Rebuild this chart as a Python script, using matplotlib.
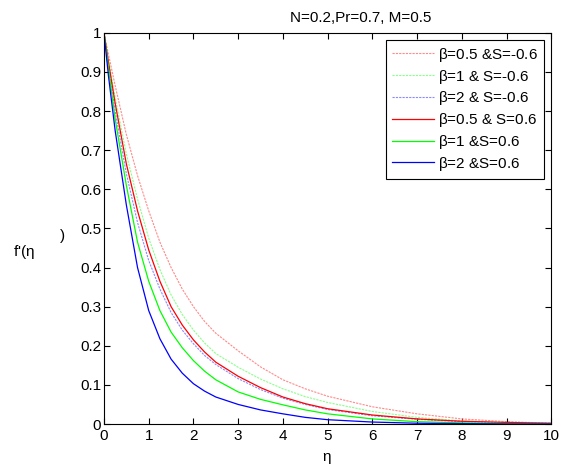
import matplotlib
matplotlib.use("Agg")
from matplotlib import pyplot as plt

# eta grid and f'(eta) values
eta = [0, 0.1, 0.25, 0.5, 0.75, 1, 1.25, 1.5, 1.75, 2, 2.25, 2.5, 3, 3.5, 4, 4.5, 5, 6, 7, 8, 9, 10]

b05_sm = [1, 0.945, 0.865, 0.74, 0.635, 0.545, 0.465, 0.4, 0.345, 0.3, 0.262, 0.232, 0.187, 0.146, 0.113, 0.09, 0.071, 0.044, 0.026, 0.013, 0.006, 0.002]
b1_sm = [1, 0.93, 0.835, 0.69, 0.575, 0.475, 0.395, 0.33, 0.28, 0.24, 0.207, 0.18, 0.145, 0.115, 0.09, 0.07, 0.055, 0.032, 0.017, 0.008, 0.004, 0.002]
b2_sm = [1, 0.92, 0.8, 0.64, 0.515, 0.418, 0.345, 0.285, 0.24, 0.205, 0.175, 0.152, 0.116, 0.088, 0.066, 0.05, 0.037, 0.021, 0.012, 0.006, 0.003, 0.001]
b05_sp = [1, 0.925, 0.82, 0.665, 0.545, 0.445, 0.365, 0.3, 0.253, 0.215, 0.184, 0.158, 0.122, 0.093, 0.069, 0.052, 0.039, 0.023, 0.013, 0.007, 0.004, 0.002]
b1_sp = [1, 0.91, 0.78, 0.61, 0.465, 0.365, 0.29, 0.235, 0.195, 0.162, 0.135, 0.113, 0.082, 0.063, 0.049, 0.036, 0.026, 0.013, 0.006, 0.003, 0.001, 0]
b2_sp = [1, 0.89, 0.75, 0.56, 0.4, 0.29, 0.218, 0.166, 0.13, 0.103, 0.084, 0.069, 0.05, 0.036, 0.026, 0.017, 0.011, 0.005, 0.002, 0.001, 0, 0]

labels = [r'$\beta$=0.5 &S=-0.6', r'$\beta$=1 & S=-0.6', r'$\beta$=2 & S=-0.6',
          r'$\beta$=0.5 & S=0.6', r'$\beta$=1 &S=0.6', r'$\beta$=2 &S=0.6']

plt.rcParams['font.family'] = ['Liberation Sans', 'DejaVu Sans']
plt.rcParams['mathtext.fontset'] = 'custom'
plt.rcParams['mathtext.rm'] = 'Liberation Sans'
plt.rcParams['mathtext.it'] = 'Liberation Sans'
plt.rcParams['font.size'] = 11

fig = plt.figure(figsize=(5.62, 4.68), dpi=100)
ax = fig.add_axes([0.185, 0.094, 0.796, 0.836])

dot = (0, (2, 1))
ax.plot(eta, b05_sm, linestyle=dot, color='#ff8a8a', lw=0.8, label=labels[0])
ax.plot(eta, b1_sm, linestyle=dot, color='#8aff8a', lw=0.8, label=labels[1])
ax.plot(eta, b2_sm, linestyle=dot, color='#8a8aff', lw=0.8, label=labels[2])
ax.plot(eta, b05_sp, '-', color='red', lw=0.9, label=labels[3])
ax.plot(eta, b1_sp, '-', color='#00ff00', lw=0.9, label=labels[4])
ax.plot(eta, b2_sp, '-', color='blue', lw=0.9, label=labels[5])

ax.set_xlim(0, 10)
ax.set_ylim(0, 1)
ax.set_xticks(range(0, 11))
ax.set_yticks([0, 0.1, 0.2, 0.3, 0.4, 0.5, 0.6, 0.7, 0.8, 0.9, 1])
ax.set_yticklabels(['0', '0.1', '0.2', '0.3', '0.4', '0.5', '0.6', '0.7', '0.8', '0.9', '1'])
ax.tick_params(direction='in', top=True, right=True, length=4, width=0.8, labelsize=11)
ax.tick_params(axis='x', pad=3.5)
ax.tick_params(axis='y', pad=2)
for s in ax.spines.values():
    s.set_linewidth(0.8)

leg = ax.legend(loc='upper right', bbox_to_anchor=(1.0, 1.0), fancybox=False, framealpha=1,
                edgecolor='black', borderaxespad=0.45, handlelength=2.75, handletextpad=0.3,
                labelspacing=0.25, borderpad=0.4, fontsize=11)
leg.get_frame().set_linewidth(0.8)

fig.text(0.642, 1 - 18 / 468, 'N=0.2,Pr=0.7, M=0.5', ha='center', va='center', fontsize=11)
fig.text(0.582, 1 - 458 / 468, r'$\eta$', ha='center', va='center', fontsize=11)
fig.text(13 / 562, 1 - 252 / 468, r"f'($\eta$", ha='left', va='center', fontsize=11)
fig.text(63 / 562, 1 - 236 / 468, ')', ha='center', va='center', fontsize=11)

fig.savefig('out.png', dpi=100)
